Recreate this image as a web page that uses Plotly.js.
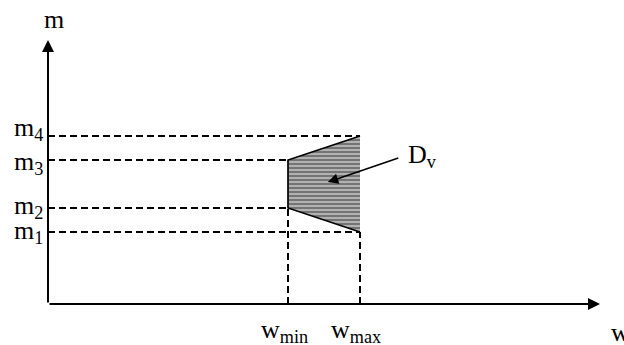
<!DOCTYPE html>
<html>
<head>
<meta charset="utf-8">
<script src="https://cdn.plot.ly/plotly-3.0.1.min.js"></script>
<style>html,body{margin:0;padding:0;background:#fff;}#chart{width:624px;height:345px;}</style>
</head>
<body>
<div id="chart"></div>
<script>
// Abstract axis values (w horizontal, m vertical)
const wNames = ['w<sub>min</sub>', 'w<sub>max</sub>'];
const wValues = [5, 6.5];
const mNames = ['m<sub>1</sub>', 'm<sub>2</sub>', 'm<sub>3</sub>', 'm<sub>4</sub>'];
const mValues = [3, 4, 6, 7];
// Region D_v corners (w, m)
const regionW = [5, 6.5, 6.5, 5];
const regionM = [6, 7, 3, 4];
// Dashed guide end points: horizontal guide for each m runs to this w
const mGuideEnd = [6.5, 5, 5, 6.5];
// vertical guide for each w runs up to this m
const wGuideEnd = [4, 3];
const axisMax = {w: 11.5, m: 11};
const regionLabel = 'D<sub>v</sub>';
const regionArrowFrom = [7.33, 6.1];
const regionArrowTo = [5.83, 5.08];

const FONT = 'Liberation Serif, Times New Roman, serif';
const FS = 26;
const traces = [];

// region fill with horizontal hatch
traces.push({
  x: regionW.concat([regionW[0]]), y: regionM.concat([regionM[0]]),
  mode: 'lines', fill: 'toself', line: {width: 0, color: 'rgba(0,0,0,0)'},
  fillcolor: '#747474',
  fillpattern: {shape: '-', bgcolor: '#747474', fgcolor: '#ffffff', size: 4, solidity: 0.22},
  hoverinfo: 'skip', showlegend: false
});
// region outline (top, left, bottom edges)
traces.push({
  x: [regionW[1], regionW[0], regionW[3], regionW[2]],
  y: [regionM[1], regionM[0], regionM[3], regionM[2]],
  mode: 'lines', line: {color: '#000', width: 1.7}, showlegend: false, hoverinfo: 'skip'
});
// horizontal dashed guides
mValues.forEach((m, i) => {
  traces.push({x: [0, mGuideEnd[i]], y: [m, m], mode: 'lines',
    line: {color: '#000', width: 2, dash: '7px,4px'}, showlegend: false, hoverinfo: 'skip'});
});
// vertical dashed guides
wValues.forEach((w, i) => {
  traces.push({x: [w, w], y: [0, wGuideEnd[i]], mode: 'lines',
    line: {color: '#000', width: 2, dash: '7px,4px'}, showlegend: false, hoverinfo: 'skip'});
});

const annotations = [];
// axes with arrow heads
annotations.push({x: axisMax.w, y: 0, ax: 0, ay: 0, xref: 'x', yref: 'y', axref: 'x', ayref: 'y',
  showarrow: true, arrowhead: 2, arrowsize: 1.2, arrowwidth: 2, arrowcolor: '#000', text: ''});
annotations.push({x: 0, y: axisMax.m, ax: 0, ay: 0, xref: 'x', yref: 'y', axref: 'x', ayref: 'y',
  showarrow: true, arrowhead: 2, arrowsize: 1.2, arrowwidth: 2, arrowcolor: '#000', text: ''});
// axis names
annotations.push({x: 0, y: axisMax.m, xref: 'x', yref: 'y', text: 'm', showarrow: false,
  xanchor: 'center', yanchor: 'middle', xshift: 6, yshift: 21, font: {family: FONT, size: FS, color: '#000'}});
annotations.push({x: axisMax.w, y: 0, xref: 'x', yref: 'y', text: 'w', showarrow: false,
  xanchor: 'left', yanchor: 'middle', xshift: 9, yshift: -28, font: {family: FONT, size: FS, color: '#000'}});
// m labels
const mShift = [0, 1, -3, 7];
mValues.forEach((m, i) => {
  annotations.push({x: 0, y: m, xref: 'x', yref: 'y', text: mNames[i], showarrow: false,
    xanchor: 'right', yanchor: 'middle', xshift: -3, yshift: mShift[i],
    font: {family: FONT, size: FS, color: '#000'}});
});
// w labels
wValues.forEach((w, i) => {
  annotations.push({x: w, y: 0, xref: 'x', yref: 'y', text: wNames[i], showarrow: false,
    xanchor: 'center', yanchor: 'top', xshift: -4, yshift: -9,
    font: {family: FONT, size: FS, color: '#000'}});
});
// region label and pointer
annotations.push({x: regionArrowTo[0], y: regionArrowTo[1], ax: regionArrowFrom[0], ay: regionArrowFrom[1],
  xref: 'x', yref: 'y', axref: 'x', ayref: 'y', showarrow: true, arrowhead: 2, arrowsize: 1.3,
  arrowwidth: 1.6, arrowcolor: '#000', text: ''});
annotations.push({x: regionArrowFrom[0], y: regionArrowFrom[1], xref: 'x', yref: 'y', text: regionLabel,
  showarrow: false, xanchor: 'left', yanchor: 'middle', xshift: 6, yshift: 2,
  font: {family: FONT, size: FS, color: '#000'}});

const layout = {
  width: 624, height: 345,
  margin: {l: 48, r: 24, t: 40, b: 41, pad: 0},
  paper_bgcolor: '#fff', plot_bgcolor: '#fff',
  showlegend: false,
  xaxis: {range: [0, axisMax.w], visible: false, fixedrange: true},
  yaxis: {range: [0, axisMax.m], visible: false, fixedrange: true},
  annotations: annotations
};
Plotly.newPlot('chart', traces, layout, {staticPlot: true, displayModeBar: false});
</script>
</body>
</html>
